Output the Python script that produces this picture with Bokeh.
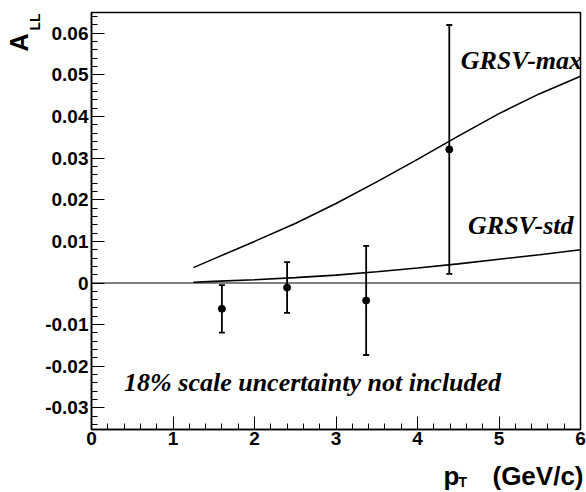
import math
from bokeh.plotting import figure
from bokeh.layouts import row, column
from bokeh.models import (ColumnDataSource, FixedTicker, Range1d, Span, Label,
                          Whisker, TeeHead)
from bokeh.core.properties import value
from bokeh.embed import file_html
from bokeh.resources import INLINE

# data points
pt = [1.60, 2.40, 3.37, 4.39]
all_vals = [-0.0062, -0.0011, -0.0042, 0.0321]
all_errs = [0.0057, 0.0061, 0.0131, 0.0299]

# theory curves
curve_x = [1.25, 1.5, 2.0, 2.5, 3.0, 3.5, 4.0, 4.5, 5.0, 5.5, 6.0]
grsv_max = [0.0037, 0.0058, 0.0100, 0.0143, 0.0191, 0.0243, 0.0297, 0.0353, 0.0407, 0.0455, 0.0497]
grsv_std = [0.0002, 0.0004, 0.0008, 0.0013, 0.0019, 0.0027, 0.0036, 0.0046, 0.0057, 0.0068, 0.0080]

x_ticks = [0, 1, 2, 3, 4, 5, 6]
y_ticks = [-0.03, -0.02, -0.01, 0.0, 0.01, 0.02, 0.03, 0.04, 0.05, 0.06]
y_tick_labels = {-0.03: "-0.03", -0.02: "-0.02", -0.01: "-0.01", 0.0: "0",
                 0.01: "0.01", 0.02: "0.02", 0.03: "0.03", 0.04: "0.04",
                 0.05: "0.05", 0.06: "0.06"}

yr = Range1d(-0.0352, 0.065)

p = figure(width=544, height=460, output_backend="svg", toolbar_location=None,
           x_range=Range1d(0, 6), y_range=yr, title=None,
           min_border_left=47, min_border_right=6, min_border_top=12,
           min_border_bottom=31)
p.background_fill_color = "white"
p.border_fill_color = "white"
p.grid.visible = False
p.outline_line_color = "black"
p.outline_line_width = 1.5

x_minor = [round(i * 0.2, 2) for i in range(0, 31)]
y_minor = [round(-0.034 + i * 0.002, 4) for i in range(0, 50)]
p.xaxis.ticker = FixedTicker(ticks=x_ticks, minor_ticks=x_minor)
p.yaxis.ticker = FixedTicker(ticks=y_ticks, minor_ticks=y_minor)
p.yaxis.major_label_overrides = y_tick_labels

for ax in (p.xaxis[0], p.yaxis[0]):
    ax.axis_line_color = "black"
    ax.axis_line_width = 1.5
    ax.major_tick_in = 13
    ax.major_tick_out = 0
    ax.minor_tick_in = 6
    ax.minor_tick_out = 0
    ax.major_tick_line_color = "black"
    ax.minor_tick_line_color = "black"
    ax.major_label_text_font = "Liberation Sans"
    ax.major_label_text_font_style = "bold"
    ax.major_label_text_font_size = "19px"
    ax.major_label_text_color = "black"
p.xaxis.major_label_standoff = 2
p.yaxis.major_label_standoff = 3

p.add_layout(Span(location=0, dimension="width", line_color="black", line_width=1))

p.line(curve_x, grsv_max, line_color="black", line_width=1.6)
p.line(curve_x, grsv_std, line_color="black", line_width=1.6)

src = ColumnDataSource(dict(x=pt, y=all_vals,
                            lo=[v - e for v, e in zip(all_vals, all_errs)],
                            hi=[v + e for v, e in zip(all_vals, all_errs)]))
p.add_layout(Whisker(source=src, base="x", upper="hi", lower="lo",
                     line_color="black", line_width=1.8,
                     upper_head=TeeHead(size=6, line_color="black", line_width=1.8),
                     lower_head=TeeHead(size=6, line_color="black", line_width=1.8)))
p.scatter("x", "y", source=src, size=7, color="black")

serif = dict(text_font="Liberation Serif", text_font_style="bold italic",
             text_font_size="26px", text_color="black", text_baseline="middle")
p.add_layout(Label(x=4.53, y=0.05346, text="GRSV-max", **serif))
p.add_layout(Label(x=4.62, y=0.01372, text="GRSV-std", **serif))
p.add_layout(Label(x=0.40, y=-0.02394, text="18% scale uncertainty not included", **serif))

# left strip with the y-axis title  A_LL (rotated, reading upwards)
left = figure(width=42, height=460, output_backend="svg", toolbar_location=None,
              x_range=Range1d(0, 42), y_range=yr, title=None,
              x_axis_location=None, y_axis_location=None,
              min_border_left=0, min_border_right=0, min_border_top=12,
              min_border_bottom=31)
left.grid.visible = False
left.outline_line_color = None
sfont = dict(text_font="Liberation Sans", text_font_style="bold",
             text_color="black", text_align="center", text_baseline="middle")
left.add_layout(Label(x=18.5, y=0.0578, text="A", angle=math.pi / 2,
                      text_font_size="25px", **sfont))
left.add_layout(Label(x=34.5, y=0.0627, text="LL", angle=math.pi / 2,
                      text_font_size="14px", **sfont))

# bottom strip with the x-axis title  p_T (GeV/c)
bottom = figure(width=586, height=32, output_backend="svg", toolbar_location=None,
                x_range=Range1d(0, 586), y_range=Range1d(0, 32), title=None,
                x_axis_location=None, y_axis_location=None,
                min_border_left=0, min_border_right=0, min_border_top=0,
                min_border_bottom=0)
bottom.grid.visible = False
bottom.outline_line_color = None
tfont = dict(text_font=value("Liberation Sans"), text_font_style="bold",
             text_color="black", text_baseline="middle")
bottom.text(x=[443], y=[17], text=["p"], text_font_size="26px",
            text_align="left", **tfont)
bottom.text(x=[458], y=[11], text=["T"], text_font_size="14px",
            text_align="left", **tfont)
bottom.text(x=[583], y=[17], text=["(GeV/c)"], text_font_size="26px",
            text_align="right", **tfont)

layout = column(row(left, p, spacing=0), bottom, spacing=0)
open("out.html", "w").write(file_html(layout, INLINE))
